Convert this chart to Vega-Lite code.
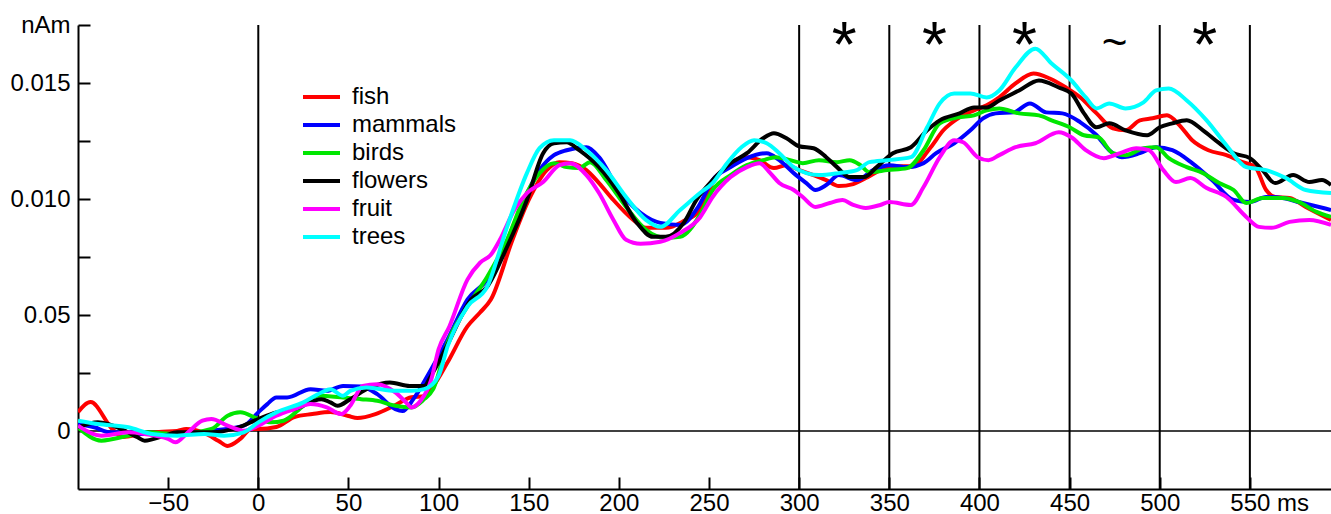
{
"$schema": "https://vega.github.io/schema/vega-lite/v6.json",
"width": 1253, "height": 464,
"autosize": {"type": "none"},
"padding": {"left": 78, "top": 25, "right": 0, "bottom": 25},
"background": "white",
"config": {"view": {"stroke": null}, "font": "Liberation Sans"},
"datasets": {
"vlines": [{"ms": 0}, {"ms": 300}, {"ms": 350}, {"ms": 400}, {"ms": 450}, {"ms": 500}, {"ms": 550}],
"hline": [{"v": 0}],
"sig": [{"ms": 325, "s": "*"}, {"ms": 375, "s": "*"}, {"ms": 425, "s": "*"}, {"ms": 475, "s": "~"}, {"ms": 525, "s": "*"}],
"curves": [
{"c":"fish","ms":-100,"v":0.000815},{"c":"fish","ms":-93,"v":0.001245},{"c":"fish","ms":-81,"v":0.000086},{"c":"fish","ms":-75,"v":-0.000258},{"c":"fish","ms":-65,"v":-0.000129},{"c":"fish","ms":-55,"v":-0.000043},{"c":"fish","ms":-45,"v":0},{"c":"fish","ms":-40,"v":0.000086},{"c":"fish","ms":-30,"v":-0.000086},{"c":"fish","ms":-22,"v":-0.000429},{"c":"fish","ms":-17,"v":-0.000644},{"c":"fish","ms":-10,"v":-0.000343},{"c":"fish","ms":-4,"v":0.000086},{"c":"fish","ms":0,"v":0.000086},{"c":"fish","ms":10,"v":0.000172},{"c":"fish","ms":20,"v":0.000601},{"c":"fish","ms":30,"v":0.00073},{"c":"fish","ms":40,"v":0.000815},{"c":"fish","ms":50,"v":0.000644},{"c":"fish","ms":55,"v":0.000558},{"c":"fish","ms":65,"v":0.00073},{"c":"fish","ms":75,"v":0.001073},{"c":"fish","ms":85,"v":0.001459},{"c":"fish","ms":92,"v":0.001502},{"c":"fish","ms":97,"v":0.001931},{"c":"fish","ms":105,"v":0.002961},{"c":"fish","ms":116,"v":0.004507},{"c":"fish","ms":123,"v":0.005107},{"c":"fish","ms":129,"v":0.005665},{"c":"fish","ms":141,"v":0.008241},{"c":"fish","ms":150,"v":0.009957},{"c":"fish","ms":160,"v":0.011245},{"c":"fish","ms":167,"v":0.011588},{"c":"fish","ms":174,"v":0.011545},{"c":"fish","ms":182,"v":0.011245},{"c":"fish","ms":189,"v":0.010687},{"c":"fish","ms":197,"v":0.009957},{"c":"fish","ms":208,"v":0.009099},{"c":"fish","ms":215,"v":0.008756},{"c":"fish","ms":226,"v":0.008756},{"c":"fish","ms":236,"v":0.00905},{"c":"fish","ms":245,"v":0.009528},{"c":"fish","ms":252,"v":0.010687},{"c":"fish","ms":262,"v":0.011545},{"c":"fish","ms":271,"v":0.011803},{"c":"fish","ms":278,"v":0.011674},{"c":"fish","ms":286,"v":0.011331},{"c":"fish","ms":293,"v":0.01146},{"c":"fish","ms":300,"v":0.011245},{"c":"fish","ms":308,"v":0.01103},{"c":"fish","ms":315,"v":0.010816},{"c":"fish","ms":322,"v":0.010558},{"c":"fish","ms":330,"v":0.010644},{"c":"fish","ms":337,"v":0.010902},{"c":"fish","ms":345,"v":0.011245},{"c":"fish","ms":352,"v":0.011417},{"c":"fish","ms":363,"v":0.011417},{"c":"fish","ms":373,"v":0.012232},{"c":"fish","ms":380,"v":0.012962},{"c":"fish","ms":389,"v":0.01352},{"c":"fish","ms":397,"v":0.01382},{"c":"fish","ms":404,"v":0.014035},{"c":"fish","ms":411,"v":0.014378},{"c":"fish","ms":420,"v":0.014979},{"c":"fish","ms":430,"v":0.015408},{"c":"fish","ms":439,"v":0.015194},{"c":"fish","ms":448,"v":0.014807},{"c":"fish","ms":456,"v":0.014378},{"c":"fish","ms":465,"v":0.013691},{"c":"fish","ms":474,"v":0.013048},{"c":"fish","ms":481,"v":0.012962},{"c":"fish","ms":489,"v":0.013391},{"c":"fish","ms":496,"v":0.013477},{"c":"fish","ms":504,"v":0.013606},{"c":"fish","ms":511,"v":0.013176},{"c":"fish","ms":518,"v":0.012533},{"c":"fish","ms":527,"v":0.012103},{"c":"fish","ms":537,"v":0.011889},{"c":"fish","ms":546,"v":0.011588},{"c":"fish","ms":553,"v":0.011374},{"c":"fish","ms":559,"v":0.010387},{"c":"fish","ms":564,"v":0.010086},{"c":"fish","ms":572,"v":0.010043},{"c":"fish","ms":581,"v":0.009657},{"c":"fish","ms":595,"v":0.009099},
{"c":"mammals","ms":-100,"v":0.0003},{"c":"mammals","ms":-91,"v":0.000159},{"c":"mammals","ms":-82,"v":-0.000057},{"c":"mammals","ms":-72,"v":-0.000057},{"c":"mammals","ms":-63,"v":-0.000129},{"c":"mammals","ms":-45,"v":-0.000129},{"c":"mammals","ms":-26,"v":0.000014},{"c":"mammals","ms":-8,"v":0.000229},{"c":"mammals","ms":0,"v":0.000803},{"c":"mammals","ms":5,"v":0.001159},{"c":"mammals","ms":10,"v":0.001446},{"c":"mammals","ms":16,"v":0.001446},{"c":"mammals","ms":29,"v":0.001803},{"c":"mammals","ms":38,"v":0.00173},{"c":"mammals","ms":47,"v":0.001944},{"c":"mammals","ms":57,"v":0.001917},{"c":"mammals","ms":66,"v":0.001588},{"c":"mammals","ms":76,"v":0.000944},{"c":"mammals","ms":80,"v":0.000858},{"c":"mammals","ms":86,"v":0.001373},{"c":"mammals","ms":95,"v":0.002532},{"c":"mammals","ms":105,"v":0.003949},{"c":"mammals","ms":116,"v":0.005665},{"c":"mammals","ms":127,"v":0.006524},{"c":"mammals","ms":136,"v":0.007811},{"c":"mammals","ms":145,"v":0.009528},{"c":"mammals","ms":156,"v":0.011245},{"c":"mammals","ms":164,"v":0.011889},{"c":"mammals","ms":171,"v":0.012103},{"c":"mammals","ms":182,"v":0.012232},{"c":"mammals","ms":189,"v":0.011803},{"c":"mammals","ms":200,"v":0.010387},{"c":"mammals","ms":212,"v":0.0094},{"c":"mammals","ms":223,"v":0.00897},{"c":"mammals","ms":234,"v":0.008884},{"c":"mammals","ms":244,"v":0.009657},{"c":"mammals","ms":252,"v":0.010816},{"c":"mammals","ms":262,"v":0.011374},{"c":"mammals","ms":271,"v":0.01176},{"c":"mammals","ms":282,"v":0.011975},{"c":"mammals","ms":289,"v":0.011674},{"c":"mammals","ms":297,"v":0.011116},{"c":"mammals","ms":304,"v":0.010687},{"c":"mammals","ms":309,"v":0.010387},{"c":"mammals","ms":315,"v":0.010601},{"c":"mammals","ms":322,"v":0.01103},{"c":"mammals","ms":332,"v":0.010816},{"c":"mammals","ms":341,"v":0.011245},{"c":"mammals","ms":350,"v":0.01146},{"c":"mammals","ms":360,"v":0.011374},{"c":"mammals","ms":369,"v":0.011545},{"c":"mammals","ms":376,"v":0.011975},{"c":"mammals","ms":386,"v":0.012404},{"c":"mammals","ms":395,"v":0.012962},{"c":"mammals","ms":402,"v":0.013477},{"c":"mammals","ms":409,"v":0.013691},{"c":"mammals","ms":419,"v":0.013734},{"c":"mammals","ms":428,"v":0.014121},{"c":"mammals","ms":437,"v":0.013734},{"c":"mammals","ms":446,"v":0.013691},{"c":"mammals","ms":456,"v":0.013305},{"c":"mammals","ms":465,"v":0.012747},{"c":"mammals","ms":472,"v":0.012103},{"c":"mammals","ms":479,"v":0.011803},{"c":"mammals","ms":489,"v":0.011975},{"c":"mammals","ms":498,"v":0.012232},{"c":"mammals","ms":507,"v":0.012103},{"c":"mammals","ms":518,"v":0.011545},{"c":"mammals","ms":529,"v":0.010816},{"c":"mammals","ms":541,"v":0.009957},{"c":"mammals","ms":550,"v":0.009872},{"c":"mammals","ms":559,"v":0.010086},{"c":"mammals","ms":568,"v":0.010043},{"c":"mammals","ms":577,"v":0.009872},{"c":"mammals","ms":595,"v":0.009528},
{"c":"birds","ms":-100,"v":0.000159},{"c":"birds","ms":-87,"v":-0.000415},{"c":"birds","ms":-72,"v":-0.0002},{"c":"birds","ms":-63,"v":-0.000057},{"c":"birds","ms":-45,"v":-0.000129},{"c":"birds","ms":-26,"v":0.000086},{"c":"birds","ms":-17,"v":0.000658},{"c":"birds","ms":-10,"v":0.000803},{"c":"birds","ms":0,"v":0.000515},{"c":"birds","ms":7,"v":0.000372},{"c":"birds","ms":14,"v":0.000443},{"c":"birds","ms":25,"v":0.001087},{"c":"birds","ms":33,"v":0.001517},{"c":"birds","ms":47,"v":0.001446},{"c":"birds","ms":57,"v":0.001373},{"c":"birds","ms":66,"v":0.0013},{"c":"birds","ms":76,"v":0.001087},{"c":"birds","ms":85,"v":0.001017},{"c":"birds","ms":92,"v":0.001373},{"c":"birds","ms":97,"v":0.001803},{"c":"birds","ms":105,"v":0.00382},{"c":"birds","ms":116,"v":0.005365},{"c":"birds","ms":127,"v":0.006653},{"c":"birds","ms":138,"v":0.008241},{"c":"birds","ms":147,"v":0.009957},{"c":"birds","ms":156,"v":0.011116},{"c":"birds","ms":164,"v":0.011545},{"c":"birds","ms":171,"v":0.011374},{"c":"birds","ms":178,"v":0.011331},{"c":"birds","ms":184,"v":0.011588},{"c":"birds","ms":193,"v":0.010816},{"c":"birds","ms":204,"v":0.009657},{"c":"birds","ms":215,"v":0.00867},{"c":"birds","ms":226,"v":0.008326},{"c":"birds","ms":234,"v":0.008369},{"c":"birds","ms":245,"v":0.009314},{"c":"birds","ms":252,"v":0.010387},{"c":"birds","ms":262,"v":0.01103},{"c":"birds","ms":271,"v":0.01146},{"c":"birds","ms":280,"v":0.011674},{"c":"birds","ms":287,"v":0.011803},{"c":"birds","ms":295,"v":0.011674},{"c":"birds","ms":302,"v":0.011545},{"c":"birds","ms":311,"v":0.011674},{"c":"birds","ms":321,"v":0.011588},{"c":"birds","ms":328,"v":0.011674},{"c":"birds","ms":334,"v":0.01146},{"c":"birds","ms":339,"v":0.011159},{"c":"birds","ms":349,"v":0.011245},{"c":"birds","ms":360,"v":0.011331},{"c":"birds","ms":369,"v":0.012103},{"c":"birds","ms":378,"v":0.013262},{"c":"birds","ms":388,"v":0.01352},{"c":"birds","ms":397,"v":0.013606},{"c":"birds","ms":404,"v":0.01382},{"c":"birds","ms":411,"v":0.013906},{"c":"birds","ms":422,"v":0.013691},{"c":"birds","ms":433,"v":0.013606},{"c":"birds","ms":440,"v":0.013391},{"c":"birds","ms":450,"v":0.013091},{"c":"birds","ms":458,"v":0.012747},{"c":"birds","ms":466,"v":0.012661},{"c":"birds","ms":474,"v":0.011975},{"c":"birds","ms":481,"v":0.011889},{"c":"birds","ms":491,"v":0.012189},{"c":"birds","ms":498,"v":0.012232},{"c":"birds","ms":505,"v":0.01176},{"c":"birds","ms":515,"v":0.011374},{"c":"birds","ms":524,"v":0.011116},{"c":"birds","ms":533,"v":0.010687},{"c":"birds","ms":541,"v":0.010387},{"c":"birds","ms":548,"v":0.009829},{"c":"birds","ms":557,"v":0.010043},{"c":"birds","ms":568,"v":0.010043},{"c":"birds","ms":577,"v":0.009872},{"c":"birds","ms":587,"v":0.009442},{"c":"birds","ms":595,"v":0.009228},
{"c":"flowers","ms":-100,"v":0.000159},{"c":"flowers","ms":-89,"v":0.000373},{"c":"flowers","ms":-76,"v":0.000086},{"c":"flowers","ms":-67,"v":-0.000272},{"c":"flowers","ms":-63,"v":-0.000415},{"c":"flowers","ms":-52,"v":-0.0002},{"c":"flowers","ms":-45,"v":-0.000057},{"c":"flowers","ms":-26,"v":-0.000057},{"c":"flowers","ms":-11,"v":0.000159},{"c":"flowers","ms":0,"v":0.000515},{"c":"flowers","ms":10,"v":0.000803},{"c":"flowers","ms":20,"v":0.000944},{"c":"flowers","ms":35,"v":0.001373},{"c":"flowers","ms":40,"v":0.001232},{"c":"flowers","ms":44,"v":0.001087},{"c":"flowers","ms":51,"v":0.001373},{"c":"flowers","ms":62,"v":0.001876},{"c":"flowers","ms":73,"v":0.00209},{"c":"flowers","ms":84,"v":0.001944},{"c":"flowers","ms":92,"v":0.001944},{"c":"flowers","ms":96,"v":0.002403},{"c":"flowers","ms":105,"v":0.003734},{"c":"flowers","ms":118,"v":0.005665},{"c":"flowers","ms":127,"v":0.006223},{"c":"flowers","ms":138,"v":0.00794},{"c":"flowers","ms":149,"v":0.009957},{"c":"flowers","ms":158,"v":0.011975},{"c":"flowers","ms":164,"v":0.012404},{"c":"flowers","ms":171,"v":0.012447},{"c":"flowers","ms":178,"v":0.012103},{"c":"flowers","ms":189,"v":0.011374},{"c":"flowers","ms":200,"v":0.010258},{"c":"flowers","ms":210,"v":0.00897},{"c":"flowers","ms":219,"v":0.008369},{"c":"flowers","ms":226,"v":0.008369},{"c":"flowers","ms":236,"v":0.00897},{"c":"flowers","ms":243,"v":0.009957},{"c":"flowers","ms":252,"v":0.010816},{"c":"flowers","ms":262,"v":0.011545},{"c":"flowers","ms":271,"v":0.011975},{"c":"flowers","ms":280,"v":0.012618},{"c":"flowers","ms":286,"v":0.012833},{"c":"flowers","ms":293,"v":0.012618},{"c":"flowers","ms":300,"v":0.012275},{"c":"flowers","ms":308,"v":0.012189},{"c":"flowers","ms":315,"v":0.011803},{"c":"flowers","ms":321,"v":0.011374},{"c":"flowers","ms":328,"v":0.010945},{"c":"flowers","ms":336,"v":0.010945},{"c":"flowers","ms":343,"v":0.011374},{"c":"flowers","ms":352,"v":0.011975},{"c":"flowers","ms":362,"v":0.012232},{"c":"flowers","ms":371,"v":0.012962},{"c":"flowers","ms":378,"v":0.013391},{"c":"flowers","ms":389,"v":0.013691},{"c":"flowers","ms":397,"v":0.013949},{"c":"flowers","ms":404,"v":0.013949},{"c":"flowers","ms":411,"v":0.014249},{"c":"flowers","ms":422,"v":0.014679},{"c":"flowers","ms":433,"v":0.015108},{"c":"flowers","ms":444,"v":0.014807},{"c":"flowers","ms":451,"v":0.01455},{"c":"flowers","ms":458,"v":0.013691},{"c":"flowers","ms":465,"v":0.013091},{"c":"flowers","ms":472,"v":0.013262},{"c":"flowers","ms":481,"v":0.012962},{"c":"flowers","ms":493,"v":0.012747},{"c":"flowers","ms":500,"v":0.013091},{"c":"flowers","ms":507,"v":0.013262},{"c":"flowers","ms":515,"v":0.013391},{"c":"flowers","ms":524,"v":0.012962},{"c":"flowers","ms":533,"v":0.012404},{"c":"flowers","ms":541,"v":0.011975},{"c":"flowers","ms":550,"v":0.01176},{"c":"flowers","ms":557,"v":0.011245},{"c":"flowers","ms":564,"v":0.010687},{"c":"flowers","ms":574,"v":0.01103},{"c":"flowers","ms":583,"v":0.01073},{"c":"flowers","ms":590,"v":0.010816},{"c":"flowers","ms":595,"v":0.010601},
{"c":"fruit","ms":-100,"v":0.000229},{"c":"fruit","ms":-87,"v":-0.0002},{"c":"fruit","ms":-72,"v":-0.000057},{"c":"fruit","ms":-63,"v":-0.000129},{"c":"fruit","ms":-50,"v":-0.000343},{"c":"fruit","ms":-46,"v":-0.000487},{"c":"fruit","ms":-39,"v":-0.000057},{"c":"fruit","ms":-31,"v":0.000443},{"c":"fruit","ms":-26,"v":0.000515},{"c":"fruit","ms":-17,"v":0.000229},{"c":"fruit","ms":-8,"v":0.000014},{"c":"fruit","ms":0,"v":0.000229},{"c":"fruit","ms":10,"v":0.000658},{"c":"fruit","ms":20,"v":0.000944},{"c":"fruit","ms":29,"v":0.001159},{"c":"fruit","ms":38,"v":0.001017},{"c":"fruit","ms":46,"v":0.00073},{"c":"fruit","ms":51,"v":0.001087},{"c":"fruit","ms":58,"v":0.001944},{"c":"fruit","ms":66,"v":0.002017},{"c":"fruit","ms":76,"v":0.001661},{"c":"fruit","ms":82,"v":0.001232},{"c":"fruit","ms":85,"v":0.001017},{"c":"fruit","ms":90,"v":0.0013},{"c":"fruit","ms":96,"v":0.002232},{"c":"fruit","ms":100,"v":0.003519},{"c":"fruit","ms":106,"v":0.004507},{"c":"fruit","ms":116,"v":0.006524},{"c":"fruit","ms":123,"v":0.007253},{"c":"fruit","ms":129,"v":0.007597},{"c":"fruit","ms":134,"v":0.008241},{"c":"fruit","ms":142,"v":0.009528},{"c":"fruit","ms":149,"v":0.010258},{"c":"fruit","ms":158,"v":0.01073},{"c":"fruit","ms":167,"v":0.01146},{"c":"fruit","ms":173,"v":0.011545},{"c":"fruit","ms":182,"v":0.01103},{"c":"fruit","ms":189,"v":0.010258},{"c":"fruit","ms":197,"v":0.009099},{"c":"fruit","ms":204,"v":0.008241},{"c":"fruit","ms":212,"v":0.008069},{"c":"fruit","ms":223,"v":0.008155},{"c":"fruit","ms":234,"v":0.008541},{"c":"fruit","ms":245,"v":0.009206},{"c":"fruit","ms":252,"v":0.010086},{"c":"fruit","ms":262,"v":0.010945},{"c":"fruit","ms":271,"v":0.011374},{"c":"fruit","ms":278,"v":0.011545},{"c":"fruit","ms":284,"v":0.011116},{"c":"fruit","ms":289,"v":0.010687},{"c":"fruit","ms":297,"v":0.010387},{"c":"fruit","ms":302,"v":0.010086},{"c":"fruit","ms":309,"v":0.009657},{"c":"fruit","ms":317,"v":0.009829},{"c":"fruit","ms":324,"v":0.009957},{"c":"fruit","ms":330,"v":0.009743},{"c":"fruit","ms":337,"v":0.009614},{"c":"fruit","ms":345,"v":0.009743},{"c":"fruit","ms":350,"v":0.009872},{"c":"fruit","ms":362,"v":0.009743},{"c":"fruit","ms":369,"v":0.010515},{"c":"fruit","ms":378,"v":0.011803},{"c":"fruit","ms":386,"v":0.012533},{"c":"fruit","ms":391,"v":0.012447},{"c":"fruit","ms":399,"v":0.011803},{"c":"fruit","ms":405,"v":0.011674},{"c":"fruit","ms":411,"v":0.011889},{"c":"fruit","ms":420,"v":0.012232},{"c":"fruit","ms":431,"v":0.012404},{"c":"fruit","ms":444,"v":0.012876},{"c":"fruit","ms":451,"v":0.012661},{"c":"fruit","ms":459,"v":0.012103},{"c":"fruit","ms":469,"v":0.01176},{"c":"fruit","ms":478,"v":0.011975},{"c":"fruit","ms":487,"v":0.012189},{"c":"fruit","ms":494,"v":0.012103},{"c":"fruit","ms":502,"v":0.011245},{"c":"fruit","ms":509,"v":0.01073},{"c":"fruit","ms":517,"v":0.010902},{"c":"fruit","ms":526,"v":0.010472},{"c":"fruit","ms":537,"v":0.010086},{"c":"fruit","ms":548,"v":0.009228},{"c":"fruit","ms":555,"v":0.008799},{"c":"fruit","ms":562,"v":0.008756},{"c":"fruit","ms":572,"v":0.009013},{"c":"fruit","ms":583,"v":0.009099},{"c":"fruit","ms":595,"v":0.008884},
{"c":"trees","ms":-100,"v":0.000443},{"c":"trees","ms":-89,"v":0.0003},{"c":"trees","ms":-72,"v":0.000159},{"c":"trees","ms":-59,"v":-0.000129},{"c":"trees","ms":-45,"v":-0.0002},{"c":"trees","ms":-30,"v":-0.000129},{"c":"trees","ms":-19,"v":-0.0002},{"c":"trees","ms":-8,"v":-0.000057},{"c":"trees","ms":0,"v":0.000373},{"c":"trees","ms":10,"v":0.000803},{"c":"trees","ms":25,"v":0.001232},{"c":"trees","ms":35,"v":0.001661},{"c":"trees","ms":40,"v":0.001803},{"c":"trees","ms":47,"v":0.001515},{"c":"trees","ms":51,"v":0.00173},{"c":"trees","ms":60,"v":0.001876},{"c":"trees","ms":76,"v":0.00173},{"c":"trees","ms":85,"v":0.00173},{"c":"trees","ms":92,"v":0.001803},{"c":"trees","ms":100,"v":0.002373},{"c":"trees","ms":105,"v":0.003648},{"c":"trees","ms":116,"v":0.005365},{"c":"trees","ms":127,"v":0.006223},{"c":"trees","ms":138,"v":0.008799},{"c":"trees","ms":149,"v":0.011116},{"c":"trees","ms":156,"v":0.012189},{"c":"trees","ms":164,"v":0.012533},{"c":"trees","ms":173,"v":0.012533},{"c":"trees","ms":182,"v":0.012103},{"c":"trees","ms":193,"v":0.011245},{"c":"trees","ms":204,"v":0.010086},{"c":"trees","ms":215,"v":0.009099},{"c":"trees","ms":223,"v":0.008799},{"c":"trees","ms":234,"v":0.009528},{"c":"trees","ms":245,"v":0.010258},{"c":"trees","ms":252,"v":0.010687},{"c":"trees","ms":260,"v":0.011545},{"c":"trees","ms":268,"v":0.012232},{"c":"trees","ms":275,"v":0.012533},{"c":"trees","ms":282,"v":0.012404},{"c":"trees","ms":289,"v":0.011975},{"c":"trees","ms":297,"v":0.011374},{"c":"trees","ms":304,"v":0.011116},{"c":"trees","ms":311,"v":0.01103},{"c":"trees","ms":322,"v":0.011116},{"c":"trees","ms":332,"v":0.011245},{"c":"trees","ms":339,"v":0.011588},{"c":"trees","ms":349,"v":0.011674},{"c":"trees","ms":362,"v":0.011803},{"c":"trees","ms":371,"v":0.013091},{"c":"trees","ms":378,"v":0.014121},{"c":"trees","ms":386,"v":0.01455},{"c":"trees","ms":395,"v":0.01455},{"c":"trees","ms":404,"v":0.014378},{"c":"trees","ms":411,"v":0.014679},{"c":"trees","ms":420,"v":0.015666},{"c":"trees","ms":431,"v":0.016481},{"c":"trees","ms":440,"v":0.015837},{"c":"trees","ms":451,"v":0.015108},{"c":"trees","ms":459,"v":0.014378},{"c":"trees","ms":465,"v":0.013906},{"c":"trees","ms":472,"v":0.014121},{"c":"trees","ms":481,"v":0.013906},{"c":"trees","ms":491,"v":0.014164},{"c":"trees","ms":498,"v":0.014679},{"c":"trees","ms":505,"v":0.014764},{"c":"trees","ms":515,"v":0.014249},{"c":"trees","ms":526,"v":0.013391},{"c":"trees","ms":537,"v":0.012318},{"c":"trees","ms":548,"v":0.011374},{"c":"trees","ms":559,"v":0.011245},{"c":"trees","ms":570,"v":0.010902},{"c":"trees","ms":581,"v":0.010387},{"c":"trees","ms":595,"v":0.010258}
]
},
"layer": [
{
"data": {"name": "vlines"},
"mark": {"type": "rule", "color": "black", "strokeWidth": 2},
"encoding": {
"x": {"field": "ms", "type": "quantitative", "scale": {"domain": [-100, 595], "nice": false, "zero": false},
"axis": {"title": null, "values": [-50, 0, 50, 100, 150, 200, 250, 300, 350, 400, 450, 500, 550], "grid": false, "domainColor": "black", "domainWidth": 2, "tickColor": "black", "tickWidth": 2, "tickSize": -12, "labelPadding": 14, "labelFontSize": 24, "labelColor": "black", "labelFlush": false, "labelOverlap": false, "labelExpr": "datum.value == 550 ? '550 ms' : datum.label", "labelAlign": {"condition": {"test": "datum.value == 550", "value": "left"}, "value": "center"}, "labelOffset": {"condition": {"test": "datum.value == 550", "value": -20}, "value": 0}}}
}
},
{
"data": {"name": "hline"},
"mark": {"type": "rule", "color": "black", "strokeWidth": 1.5},
"encoding": {
"y": {"field": "v", "type": "quantitative", "scale": {"domain": [-0.0025, 0.0175], "nice": false, "zero": false},
"axis": {"title": null, "values": [0, 0.0025, 0.005, 0.0075, 0.01, 0.0125, 0.015, 0.0175], "grid": false, "domainColor": "black", "domainWidth": 2, "tickColor": "black", "tickWidth": 2, "tickSize": -12, "labelPadding": 20, "labelFontSize": 24, "labelColor": "black", "labelFlush": false, "labelOverlap": false, "labelExpr": "abs(datum.value) < 1e-9 ? '0' : abs(datum.value - 0.005) < 1e-9 ? '0.05' : abs(datum.value - 0.01) < 1e-9 ? '0.010' : abs(datum.value - 0.015) < 1e-9 ? '0.015' : abs(datum.value - 0.0175) < 1e-9 ? 'nAm' : ''"}}
}
},
{
"data": {"name": "curves"},
"mark": {"type": "line", "strokeWidth": 4, "interpolate": "monotone", "clip": true},
"encoding": {
"x": {"field": "ms", "type": "quantitative"},
"y": {"field": "v", "type": "quantitative"},
"color": {"field": "c", "type": "nominal",
"scale": {"domain": ["fish", "mammals", "birds", "flowers", "fruit", "trees"], "range": ["#ff0000", "#0000ff", "#00e600", "#000000", "#ff00ff", "#00ffff"]},
"legend": {"orient": "none", "legendX": 223, "legendY": 61, "title": null, "symbolType": "stroke", "symbolStrokeWidth": 4, "symbolSize": 1369, "labelFontSize": 24, "labelOffset": 10, "labelColor": "black", "clipHeight": 22, "rowPadding": 4, "padding": 0, "labelBaseline": "middle"}}
}
},
{
"data": {"name": "sig"},
"transform": [{"filter": "datum.s == '*'"}],
"mark": {"type": "text", "fontSize": 64, "baseline": "alphabetic", "align": "center", "color": "black"},
"encoding": {
"x": {"field": "ms", "type": "quantitative"},
"y": {"datum": 0.0157},
"text": {"field": "s"}
}
},
{
"data": {"name": "sig"},
"transform": [{"filter": "datum.s == '~'"}],
"mark": {"type": "text", "fontSize": 44, "baseline": "alphabetic", "align": "center", "color": "black"},
"encoding": {
"x": {"field": "ms", "type": "quantitative"},
"y": {"datum": 0.0161},
"text": {"field": "s"}
}
}
]
}
